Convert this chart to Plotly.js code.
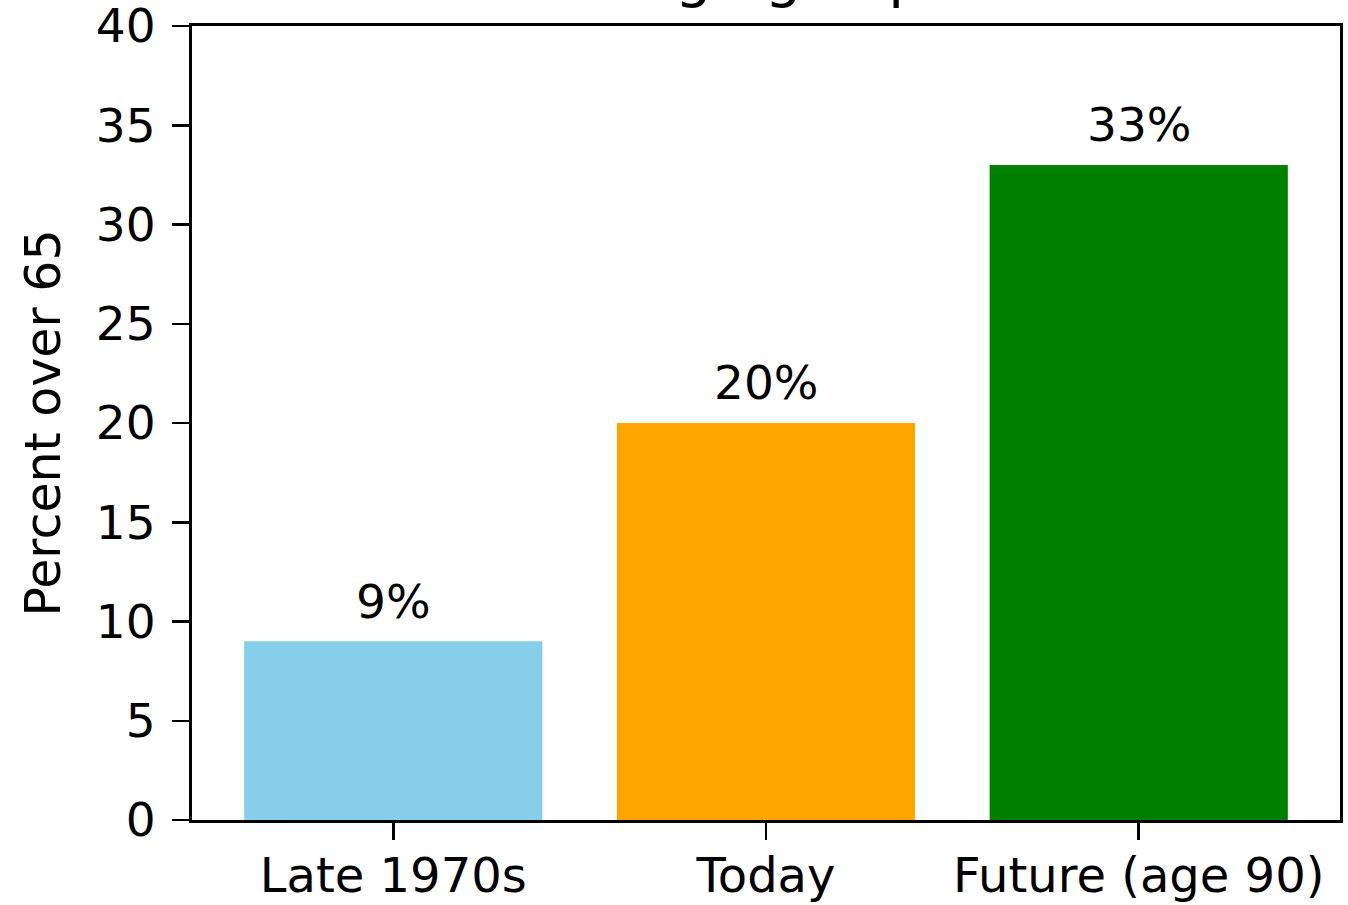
<!DOCTYPE html>
<html>
<head>
<meta charset="utf-8">
<script src="https://cdn.plot.ly/plotly-3.0.1.min.js"></script>
<style>
  html, body { margin: 0; padding: 0; background: #ffffff; }
  #chart { width: 1348px; height: 905px; }
</style>
</head>
<body>
<div id="chart"></div>
<script>
// Share of the population aged over 65
const categories = ['Late 1970s', 'Today', 'Future (age 90)'];
const percentOver65 = [9, 20, 33];
const barColors = ['#87ceeb', '#ffa500', '#008000'];
const yTickValues = [0, 5, 10, 15, 20, 25, 30, 35, 40];

const FONT = 'DejaVu Sans, Verdana, sans-serif';

const bars = {
  type: 'bar',
  x: categories,
  y: percentOver65,
  marker: { color: barColors, line: { width: 0 } },
  width: 0.8,
  hoverinfo: 'skip',
  showlegend: false
};

// value labels sitting one unit above each bar
const labels = categories.map((c, i) => ({
  x: c,
  y: percentOver65[i] + 1,
  xref: 'x',
  yref: 'y',
  text: percentOver65[i] + '%',
  showarrow: false,
  xanchor: 'center',
  yanchor: 'bottom',
  yshift: -9,
  font: { family: FONT, size: 47, color: '#000000' }
}));

const layout = {
  width: 1348,
  height: 905,
  margin: { l: 192, r: 8, t: 26, b: 85, pad: 0 },
  paper_bgcolor: '#ffffff',
  plot_bgcolor: '#ffffff',
  font: { family: FONT, size: 47, color: '#000000' },
  title: {
    text: 'The Aging Population',
    font: { family: FONT, size: 58, color: '#000000' },
    xref: 'container',
    yref: 'container',
    x: 509 / 1348,
    xanchor: 'left',
    y: 1,
    yanchor: 'bottom',
    pad: { b: 4 }
  },
  xaxis: {
    type: 'category',
    range: [-0.54, 2.54],
    showline: true,
    mirror: true,
    linecolor: '#000000',
    linewidth: 3,
    ticks: 'outside',
    ticklen: 17,
    tickwidth: 2.5,
    tickcolor: '#000000',
    ticklabelstandoff: -6,
    ticklabeloverflow: 'allow',
    showgrid: false,
    zeroline: false,
    fixedrange: true,
    tickfont: { family: FONT, size: 48, color: '#000000' }
  },
  yaxis: {
    range: [0, 40],
    tickvals: yTickValues,
    ticktext: yTickValues.map(String),
    showline: true,
    mirror: true,
    linecolor: '#000000',
    linewidth: 3,
    ticks: 'outside',
    ticklen: 17,
    tickwidth: 2.5,
    tickcolor: '#000000',
    ticklabelstandoff: 7,
    ticklabeloverflow: 'allow',
    showgrid: false,
    zeroline: false,
    fixedrange: true,
    tickfont: { family: FONT, size: 47, color: '#000000' },
    title: {
      text: 'Percent over 65',
      font: { family: FONT, size: 49, color: '#000000' },
      standoff: 20
    }
  },
  annotations: labels,
  bargap: 0.2
};

Plotly.newPlot('chart', [bars], layout, { staticPlot: true, displayModeBar: false });
</script>
</body>
</html>
